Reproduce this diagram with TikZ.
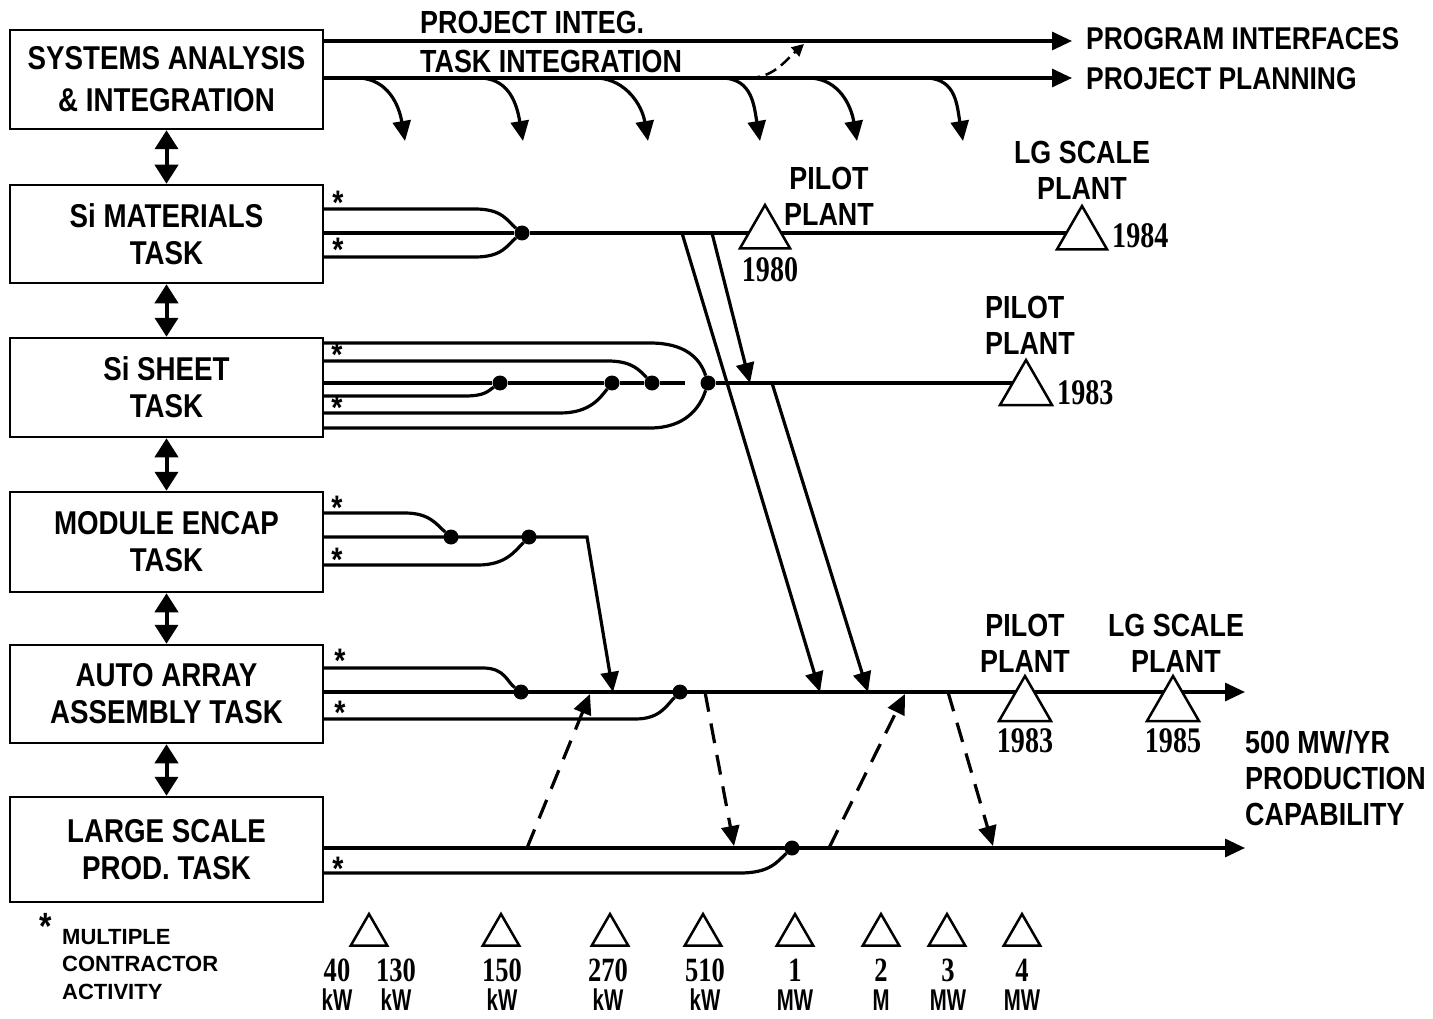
\documentclass[tikz,border=0pt]{standalone}
\usepackage{fontspec}
\setmainfont[FakeStretch=0.84]{Liberation Sans}
\newfontfamily\numfont[FakeStretch=0.78]{Liberation Serif}
\newfontfamily\legfont{Liberation Sans}
\newfontfamily\unitfont[FakeStretch=0.68]{Liberation Sans}
\usetikzlibrary{arrows.meta,shapes.geometric}
\pgfdeclarelayer{bg}
\pgfsetlayers{bg,main}
\begin{document}
\begin{tikzpicture}[x=1pt,y=-1pt,
  box/.style={draw, line width=2.5pt, minimum width=313pt, minimum height=98pt, inner sep=0pt, align=center, font=\bfseries\fontsize{33}{37}\selectfont},
  ln/.style={line width=3.2pt},
  arr/.style={ln, -{Triangle[width=18pt,length=20pt]}},
  dbl/.style={line width=4pt, {Triangle[width=23pt,length=19pt]}-{Triangle[width=23pt,length=19pt]}},
  dsh/.style={arr, dash pattern=on 20pt off 12pt},
  dot/.style={circle, fill, inner sep=0pt, minimum size=15pt},
  tri/.style={draw, fill=white, regular polygon, regular polygon sides=3, inner sep=0pt, minimum size=60pt, line width=2.5pt},
  smalltri/.style={tri, minimum size=42pt},
  lab/.style={inner sep=0pt, font=\bfseries\fontsize{32}{36}\selectfont},
  yr/.style={inner sep=0pt, font=\numfont\bfseries\fontsize{36}{36}\selectfont},
  unit/.style={inner sep=0pt, font=\unitfont\bfseries\fontsize{30}{30}\selectfont},
  star/.style={inner sep=0pt, anchor=north, font=\bfseries\fontsize{34}{34}\selectfont}
]
\useasboundingbox (0,0) rectangle (1433,1019);

% ---------- boxes ----------
\node[box, minimum height=99pt] (b1) at (166.5,79.5) {SYSTEMS ANALYSIS\\[5pt]\& INTEGRATION};
\node[box] (b2) at (166.5,234) {Si MATERIALS\\TASK};
\node[box, minimum height=99pt] (b3) at (166.5,387.5) {Si SHEET\\TASK};
\node[box, minimum height=100pt] (b4) at (166.5,542) {MODULE ENCAP\\TASK};
\node[box] (b5) at (166.5,694) {AUTO ARRAY\\ASSEMBLY TASK};
\node[box, minimum height=105pt] (b6) at (166.5,849.5) {LARGE SCALE\\PROD. TASK};

% ---------- top labels ----------
\node[lab, anchor=west] (lpj) at (420,22) {PROJECT INTEG.};
\node[lab, anchor=west] (lti) at (420,61) {TASK INTEGRATION};
\node[lab, anchor=west, font=\bfseries\fontsize{31.5}{36}\selectfont] (lpi) at (1086,39) {PROGRAM INTERFACES};
\node[lab, anchor=west, font=\bfseries\fontsize{31.5}{36}\selectfont] (lpp) at (1086,79) {PROJECT PLANNING};

% ---------- dots ----------
\node[dot] (d2) at (522,233) {};
\node[dot] (e1) at (500,383) {};
\node[dot] (e2) at (612,383) {};
\node[dot] (e3) at (652,383) {};
\node[dot] (e4) at (708,383) {};
\node[dot] (d4a) at (451,537) {};
\node[dot] (d4b) at (529,537) {};
\node[dot] (d5a) at (521,692) {};
\node[dot] (d5b) at (680,692) {};
\node[dot] (d6) at (792,848) {};

% ---------- milestone triangles ----------
\node[tri, minimum size=58pt] (T1980) at (765,234) {};
\node[tri, minimum size=58pt] (T1984) at (1082,235) {};
\node[tri] (T1983s) at (1026,390) {};
\node[tri] (T1983a) at (1025,706) {};
\node[tri] (T1985) at (1173,706) {};

\node[lab, align=center] (pp1) at (829,196) {PILOT\\PLANT};
\node[yr] (y1980) at (770,270) {1980};
\node[lab, align=center] (lg1) at (1082,170) {LG SCALE\\PLANT};
\node[yr, anchor=west] (y1984) at (1112,236) {1984};
\node[lab, align=left] (pp2) at (1030,325) {PILOT\\PLANT};
\node[yr, anchor=west] (y1983s) at (1057,393) {1983};
\node[lab, align=center] (pp3) at (1025,643) {PILOT\\PLANT};
\node[lab, align=center] (lg2) at (1176,643) {LG SCALE\\PLANT};
\node[yr] (y1983a) at (1025,741) {1983};
\node[yr] (y1985) at (1173,741) {1985};
\node[lab, align=left, anchor=west] (cap) at (1245,778) {500 MW/YR\\PRODUCTION\\CAPABILITY};

% ---------- asterisks ----------
\foreach \i/\x/\y in {1/338/191, 2/338/238, 3/337/343, 4/337/396, 5/337/496, 6/337/548, 7/340/649, 8/340/701, 9/338/857}
  \node[star] (ast\i) at (\x,\y) {*};

% ---------- legend ----------
\node[star, font=\bfseries\fontsize{38}{38}\selectfont] (lstar) at (46,913) {*};
\node[anchor=north west, inner sep=0pt, align=left, font=\legfont\bfseries\fontsize{22}{27.5}\selectfont] (leg) at (62,929) {MULTIPLE\\CONTRACTOR\\ACTIVITY};

\foreach \n/\x in {1/369,2/501,3/610,4/703,5/795,6/881,7/947,8/1022}
  \node[smalltri] (k\n) at (\x,935) {};
\foreach \n/\x/\v/\u in {1/337/40/kW, 2/396/130/kW, 3/502/150/kW, 4/608/270/kW, 5/705/510/kW, 6/795/1/MW, 7/881/2/M, 8/948/3/MW, 9/1022/4/MW} {
  \node[yr, font=\numfont\bfseries\fontsize{34}{34}\selectfont] (n\n) at (\x,970) {\v};
  \node[unit] (u\n) at (\x,1000) {\u};
}

% ---------- connectors ----------
\begin{pgfonlayer}{bg}
\fill[white] (0,0) rectangle (1433,1019);

% double arrows between tasks
\foreach \a/\b in {b1/b2,b2/b3,b3/b4,b4/b5,b5/b6}
  \draw[dbl] (\a.south) -- (\b.north);

% top integration lines
\coordinate (t1) at (323,41);
\coordinate (t2) at (323,78);
\coordinate (pe1) at (1072,41);
\coordinate (pe2) at (1072,78);
\draw[arr] (t1) -- (pe1);
\draw[arr] (t2) -- (pe2);
\foreach \i/\s/\t in {1/360/405, 2/482/523, 3/598/648, 4/724/760, 5/811/857, 6/928/963} {
  \coordinate (cs\i) at (\s,78);
  \coordinate (ct\i) at (\t,141);
  \draw[arr] (cs\i) .. controls +(28,2) and +(-6,-36) .. (ct\i);
}
\coordinate (dq1) at (748,78);
\coordinate (dq2) at (804,44);
\draw[line width=2.5pt, dash pattern=on 12pt off 6pt, -{Triangle[width=12pt,length=12pt]}] (dq1) .. controls +(25,0) and +(-20,18) .. (dq2);

% Si materials
\coordinate (m2a) at (323,209);
\coordinate (m2b) at (323,233);
\coordinate (m2c) at (323,257);
\draw[ln] (m2a) -- (475,209) .. controls +(28,0) and +(-15,-12) .. (d2);
\draw[ln] (m2c) -- (475,257) .. controls +(28,0) and +(-15,12) .. (d2);
\draw[ln] (m2b) -- (d2);
\draw[ln] (d2) -- (d2 -| T1984.center);

% Si sheet
\coordinate (m3a) at (323,343);
\coordinate (m3b) at (323,361);
\coordinate (m3c) at (323,383);
\coordinate (m3d) at (323,396);
\coordinate (m3e) at (323,413);
\coordinate (m3f) at (323,428);
\draw[ln] (m3c) -- (e1) -- (e2) -- (e3) -- ++(33,0);
\draw[ln] (e4) -- (e4 -| T1983s.center);
\draw[ln] (m3a) -- (650,343) .. controls +(35,0) and +(-8,-25) .. (e4);
\draw[ln] (m3b) -- (608,361) .. controls +(25,0) and +(-12,-12) .. (e3);
\draw[ln] (m3d) -- (465,396) .. controls +(20,0) and +(-12,8) .. (e1);
\draw[ln] (m3e) -- (560,413) .. controls +(30,0) and +(-12,15) .. (e2);
\draw[ln] (m3f) -- (650,428) .. controls +(35,0) and +(-8,25) .. (e4);

% transfers down from Si materials / Si sheet
\coordinate (s1) at (682,233);
\coordinate (s2) at (712,233);
\coordinate (s3) at (772,383);
\coordinate (q1) at (750,383);
\coordinate (a1) at (820,692);
\coordinate (a3) at (868,692);
\draw[arr] (s1) -- (a1);
\draw[arr] (s2) -- (q1);
\draw[arr] (s3) -- (a3);

% module encap
\coordinate (m4a) at (323,513);
\coordinate (m4b) at (323,537);
\coordinate (m4c) at (323,565);
\coordinate (a2) at (613,692);
\draw[ln] (m4a) -- (405,513) .. controls +(25,0) and +(-14,-12) .. (d4a);
\draw[ln] (m4c) -- (478,565) .. controls +(28,0) and +(-14,14) .. (d4b);
\draw[arr] (m4b) -- (587,537) -- (a2);

% auto array
\coordinate (m5a) at (323,668);
\coordinate (m5b) at (323,692);
\coordinate (m5c) at (323,719);
\coordinate (endA) at (1245,692);
\draw[arr] (m5b) -- (endA);
\draw[ln] (m5a) -- (483,668) .. controls +(22,0) and +(-14,-10) .. (d5a);
\draw[ln] (m5c) -- (635,719) .. controls +(25,0) and +(-14,14) .. (d5b);

% large scale
\coordinate (m6a) at (323,848);
\coordinate (m6b) at (323,873);
\coordinate (endL) at (1245,848);
\draw[arr] (m6a) -- (endL);
\draw[ln] (m6b) -- (740,873) .. controls +(30,0) and +(-15,14) .. (d6);

% dashed exchanges
\coordinate (u1s) at (527,848);
\coordinate (u1e) at (590,694);
\coordinate (v1s) at (705,692);
\coordinate (v1e) at (734,846);
\coordinate (u2s) at (829,848);
\coordinate (u2e) at (905,694);
\coordinate (v2s) at (948,692);
\coordinate (v2e) at (993,846);
\draw[dsh] (u1s) -- (u1e);
\draw[dsh] (v1s) -- (v1e);
\draw[dsh] (u2s) -- (u2e);
\draw[dsh] (v2s) -- (v2e);
\end{pgfonlayer}
\end{tikzpicture}
\end{document}
